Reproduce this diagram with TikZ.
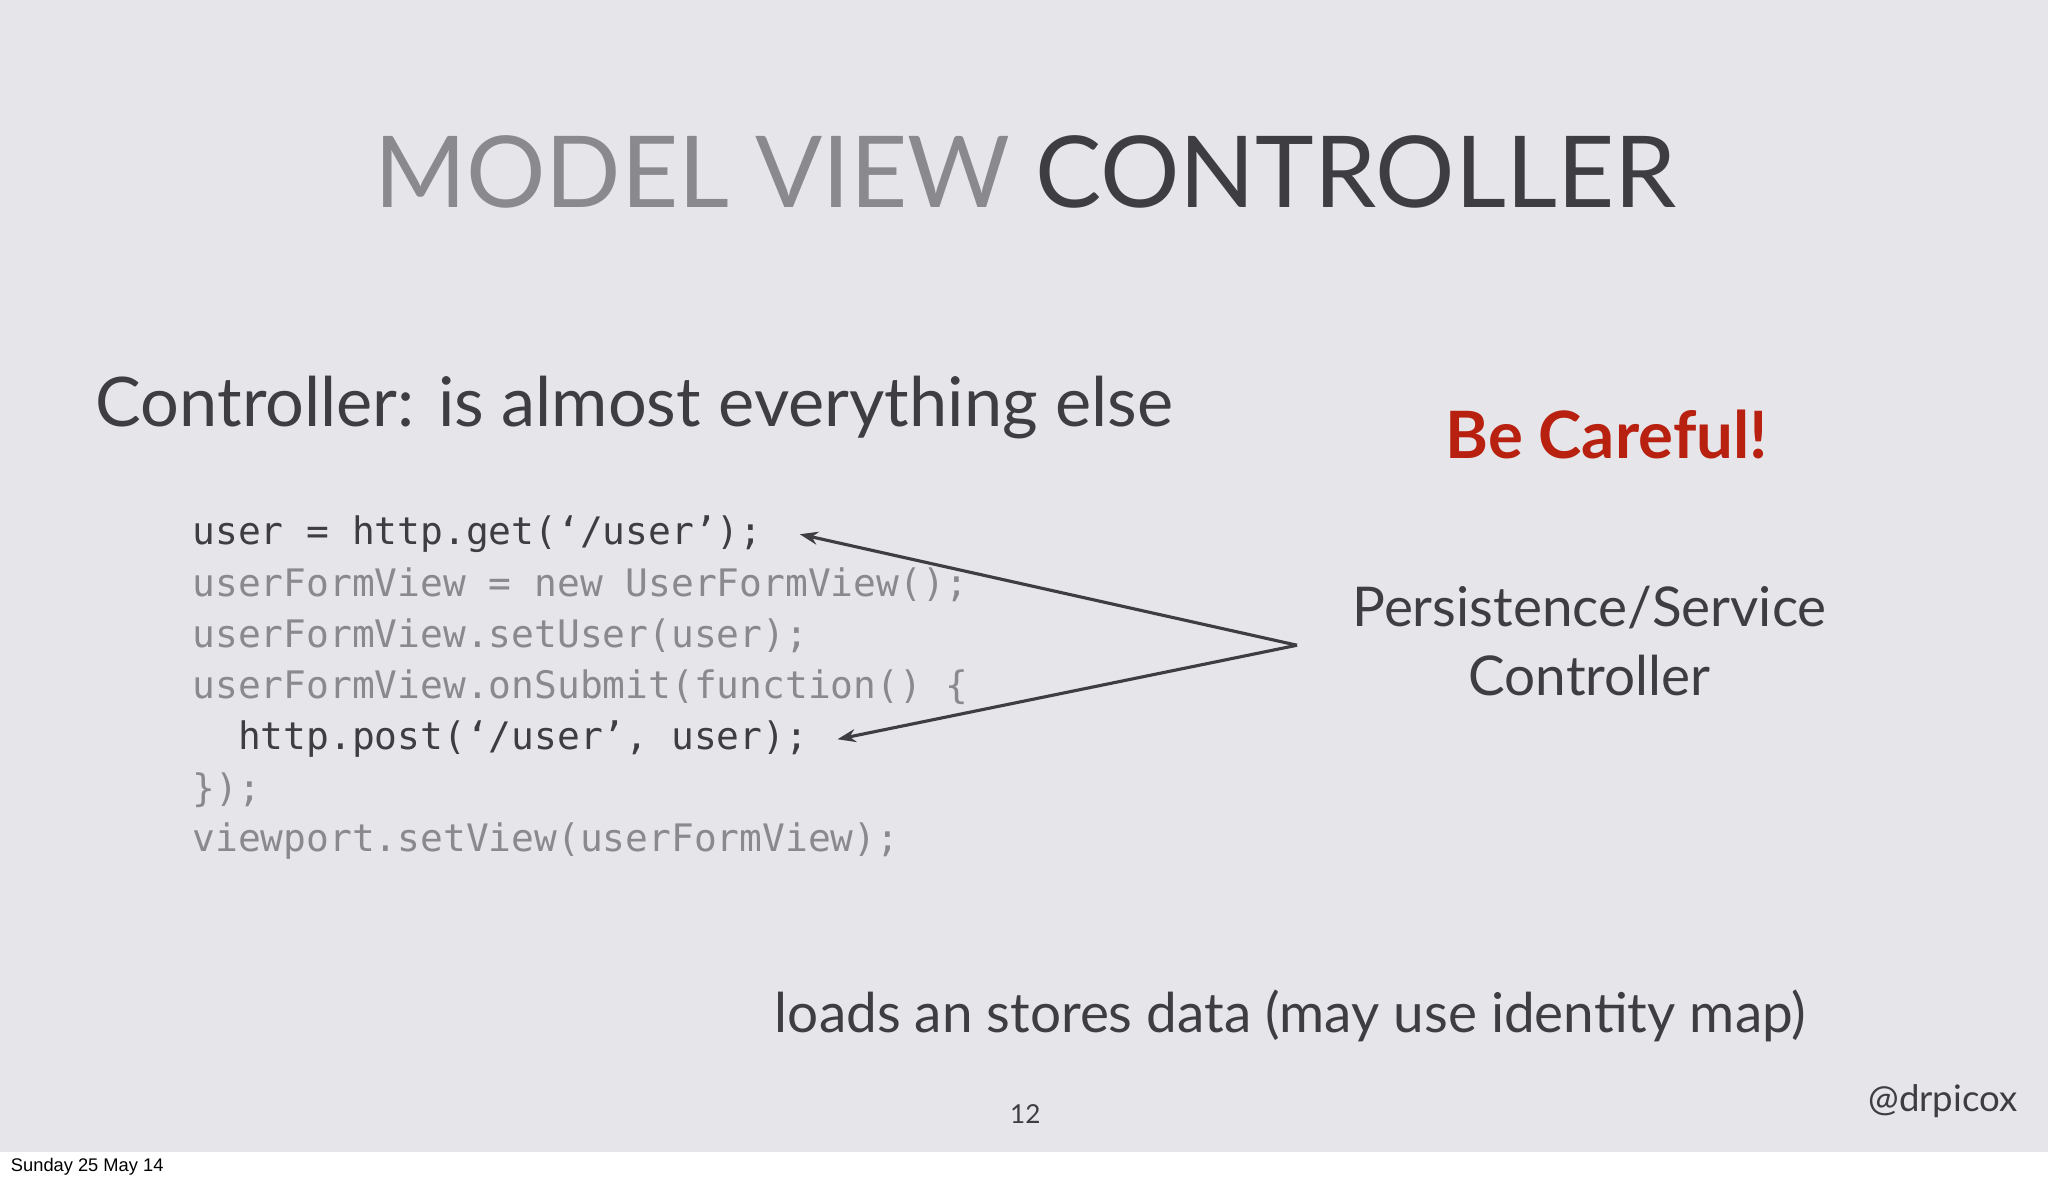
\documentclass[tikz,border=0pt]{standalone}
\usepackage{fontspec}
\setmainfont{Lato}
\setmonofont{DejaVu Sans Mono}
\newfontfamily\smallsans{Liberation Sans}
\definecolor{bgc}{HTML}{E6E6EA}
\definecolor{darkt}{HTML}{3E3E42}
\definecolor{grayt}{HTML}{8A8A8E}
\definecolor{redt}{HTML}{B8200F}
\tikzset{txt/.style={inner sep=0pt,text=darkt},code/.style={txt,anchor=west,font=\ttfamily\fontsize{14.5}{16}\selectfont},
arr/.style={draw=darkt,line width=1.2pt,-{Stealth[length=7pt,width=5pt]}}}
\usetikzlibrary{arrows.meta}
\begin{document}
\begin{tikzpicture}[x=0.5pt,y=-0.5pt]
\useasboundingbox (0,0) rectangle (1568,906);
\fill[bgc] (0,0) rectangle (1568,882);
\fill[white] (0,882) rectangle (1568,906);
\node[txt,font=\fontsize{38}{40}\selectfont] (title) at (785,132) {\textcolor{grayt}{MODEL VIEW} CONTROLLER};
\node[txt,anchor=west,font=\fontsize{26.2}{28}\selectfont] (sub) at (73,312) {Controller: is almost everything else};
\node[code] (c1) at (147,409) {user = http.get(‘/user’);};
\node[code,text=grayt] (c2) at (147,448) {userFormView = new UserFormView();};
\node[code,text=grayt] (c3) at (147,487) {userFormView.setUser(user);};
\node[code,text=grayt] (c4) at (147,526) {userFormView.onSubmit(function() \{};
\node[code] (c5) at (147,566) {\ \ http.post(‘/user’, user);};
\node[code,text=grayt] (c6) at (147,605) {\});};
\node[code,text=grayt] (c7) at (147,644) {viewport.setView(userFormView);};
\node[txt,text=redt,font=\bfseries\fontsize{25}{27}\selectfont] (care) at (1230,333) {Be Careful!};
\node[txt,align=center,font=\fontsize{21}{26.5}\selectfont] (pers) at (1217,491) {Persistence/Service\\Controller};
\coordinate (src) at (993,494);
\draw[arr] (src) -- ([xshift=14pt]c1.east);
\draw[arr] (src) -- ([xshift=11pt]c5.east);
\node[txt,font=\fontsize{21}{24}\selectfont] (loads) at (988,778) {loads an stores data (may use identity map)};
\node[txt,font=\fontsize{10}{12}\selectfont] (num) at (785,853) {12};
\node[txt,anchor=east,font=\fontsize{14}{16}\selectfont] (at) at (1545,843) {@drpicox};
\node[txt,anchor=west,text=black,font=\smallsans\fontsize{7}{8}\selectfont] (date) at (8,893) {Sunday 25 May 14};
\end{tikzpicture}
\end{document}
